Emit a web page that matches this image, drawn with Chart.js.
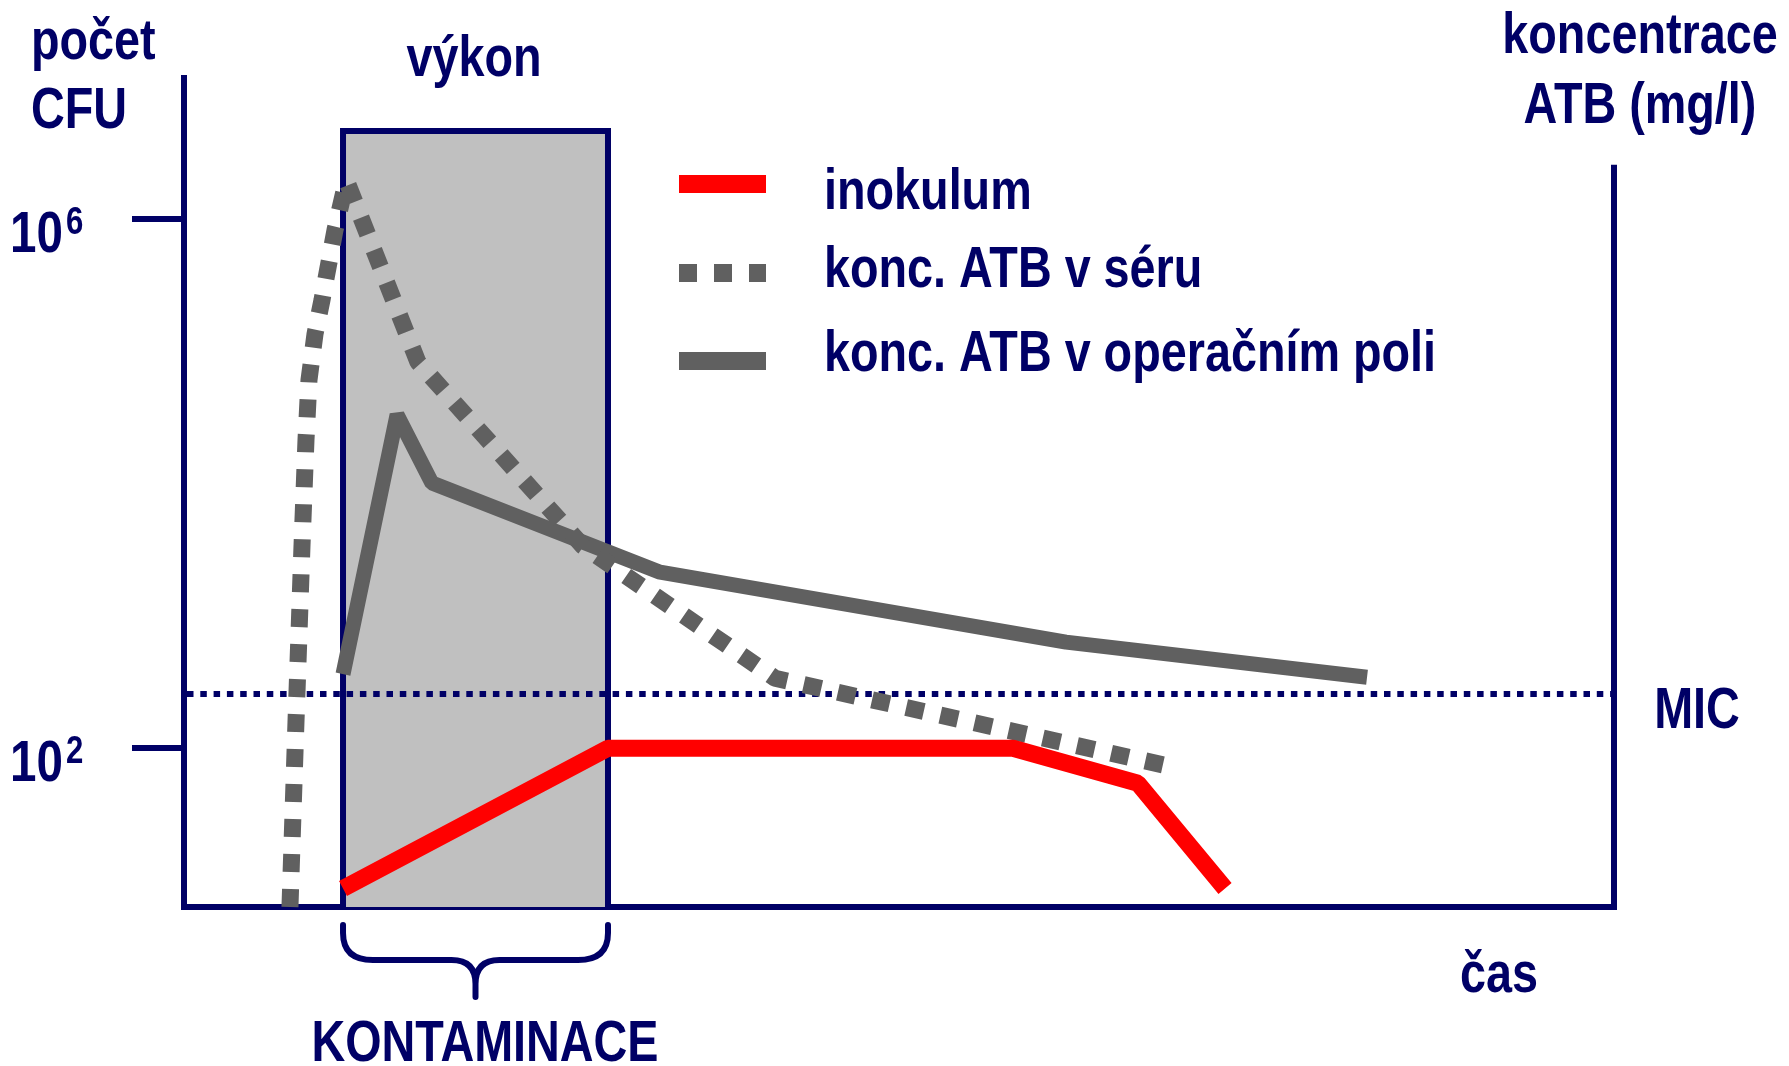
<!DOCTYPE html>
<html><head><meta charset="utf-8">
<script src="https://cdn.jsdelivr.net/npm/chart.js@4.4.1/dist/chart.umd.min.js"></script>
<style>html,body{margin:0;padding:0;background:#fff;overflow:hidden}#wrap{width:1789px;height:1066px;position:relative}</style>
</head><body><div id="wrap"><canvas id="c" width="1789" height="1066"></canvas></div>
<script>
// ---- data (x: time units 0..100 across the axis, y: log10 units) ----
const seriesNames = ['inokulum', 'konc. ATB v séru', 'konc. ATB v operačním poli'];
const inokulumX = [11.12, 29.65, 57.97, 66.71, 72.80];
const inokulumY = [0.94, 2.0, 2.0, 1.735, 0.94];
const seraX = [7.41, 7.83, 8.25, 8.53, 8.74, 9.16, 9.65, 10.56, 11.36, 16.36, 27.90, 41.33, 68.60];
const seraY = [0.80, 2.197, 3.527, 4.329, 4.783, 5.130, 5.388, 5.917, 6.29, 4.919, 3.527, 2.529, 1.871];
const poleX = [11.12, 14.90, 17.34, 33.29, 61.68, 82.73];
const poleY = [2.560, 4.52, 4.004, 3.331, 2.802, 2.537];
const yTickValues = [2, 6];
const yTickLabels = [['10', '2'], ['10', '6']];
const micLevel = 2.41;
const surgeryStart = 11.12, surgeryEnd = 29.65, surgeryTop = 6.665;
const rightAxisTop = 6.41;
const yMin = 0.8, yMax = 7.066, xMin = 0, xMax = 100;

const NAVY = '#000066', RED = '#ff0000', GREY = '#606060', BOX = '#c0c0c0';

const ctx0 = document.getElementById('c').getContext('2d');
function fontAvail(name) {
  ctx0.font = 'bold 50px monospace'; const a = ctx0.measureText('abcdefghijklmnop').width;
  ctx0.font = `bold 50px "${name}", monospace`; const b = ctx0.measureText('abcdefghijklmnop').width;
  return a !== b;
}
let FAM = '"Liberation Sans Narrow"', SX = 1;
if (!fontAvail('Liberation Sans Narrow')) { FAM = '"Liberation Sans", Arial, sans-serif'; SX = 0.82; }

function txt(ctx, s, x, y, align, size) {
  ctx.save();
  ctx.font = `bold ${size}px ${FAM}`;
  ctx.fillStyle = NAVY; ctx.textBaseline = 'alphabetic'; ctx.textAlign = 'left';
  const w = ctx.measureText(s).width * SX;
  const x0 = align === 'center' ? x - w / 2 : align === 'right' ? x - w : x;
  ctx.translate(x0, y); ctx.scale(SX, 1); ctx.fillText(s, 0, 0);
  ctx.restore();
  return w;
}

const pts = (xs, ys) => xs.map((x, i) => ({ x, y: ys[i] }));

const decor = {
  id: 'decor',
  beforeDatasetsDraw(chart) {
    const { ctx, scales: { x, y } } = chart;
    const l = x.getPixelForValue(surgeryStart), r = x.getPixelForValue(surgeryEnd);
    const t = y.getPixelForValue(surgeryTop), b = y.getPixelForValue(yMin);
    ctx.save();
    ctx.fillStyle = BOX; ctx.fillRect(l, t, r - l, b - t);
    ctx.strokeStyle = NAVY; ctx.lineWidth = 6;
    ctx.beginPath(); ctx.moveTo(l, b); ctx.lineTo(l, t); ctx.lineTo(r, t); ctx.lineTo(r, b); ctx.stroke();
    const my = y.getPixelForValue(micLevel);
    ctx.lineWidth = 6; ctx.setLineDash([6.5, 6.8]);
    ctx.beginPath(); ctx.moveTo(x.getPixelForValue(xMin) + 3, my); ctx.lineTo(x.getPixelForValue(xMax), my); ctx.stroke();
    ctx.setLineDash([]);
    ctx.lineWidth = 6;
    ctx.beginPath(); ctx.moveTo(x.getPixelForValue(xMax), y.getPixelForValue(rightAxisTop)); ctx.lineTo(x.getPixelForValue(xMax), y.getPixelForValue(yMin) + 3); ctx.stroke();
    ctx.restore();
  },
  afterDraw(chart) {
    const { ctx, scales: { x, y } } = chart;
    const S = 57;
    txt(ctx, 'počet', 31, 59, 'left', S);
    txt(ctx, 'CFU', 31, 128, 'left', S);
    txt(ctx, 'výkon', 474, 76, 'center', S);
    txt(ctx, 'koncentrace', 1640, 53, 'center', S);
    txt(ctx, 'ATB (mg/l)', 1640, 123, 'center', S);
    txt(ctx, 'MIC', 1697, 728, 'center', S);
    txt(ctx, 'čas', 1499, 992, 'center', S);
    txt(ctx, 'KONTAMINACE', 485, 1061, 'center', S);
    yTickValues.forEach((v, i) => {
      const py = y.getPixelForValue(v);
      txt(ctx, yTickLabels[i][0], 63, py + 33, 'right', 58);
      txt(ctx, yTickLabels[i][1], 66, py + 15, 'left', 38);
    });
    const lx0 = 679, lx1 = 766, tx = 824;
    const rows = [{ y: 184, ty: 209, c: RED, d: [] }, { y: 273, ty: 287, c: GREY, d: [18, 17] }, { y: 361, ty: 371, c: GREY, d: [] }];
    rows.forEach((r, i) => {
      ctx.save(); ctx.strokeStyle = r.c; ctx.lineWidth = 18; ctx.lineCap = 'butt'; ctx.setLineDash(r.d);
      ctx.beginPath(); ctx.moveTo(lx0, r.y); ctx.lineTo(lx1, r.y); ctx.stroke(); ctx.restore();
      txt(ctx, seriesNames[i], tx, r.ty, 'left', S);
    });
    const l = x.getPixelForValue(surgeryStart), rr = x.getPixelForValue(surgeryEnd), m = (l + rr) / 2;
    const y0 = 925, yh = 960, yt = 997;
    ctx.save(); ctx.strokeStyle = NAVY; ctx.lineWidth = 6; ctx.lineCap = 'round'; ctx.lineJoin = 'round';
    ctx.beginPath();
    ctx.moveTo(l, y0); ctx.lineTo(l, y0 + 8);
    ctx.quadraticCurveTo(l, yh, l + 30, yh);
    ctx.lineTo(m - 24, yh);
    ctx.quadraticCurveTo(m, yh, m, yh + 24); ctx.lineTo(m, yt);
    ctx.moveTo(m, yh + 24); ctx.quadraticCurveTo(m, yh, m + 24, yh);
    ctx.lineTo(rr - 30, yh);
    ctx.quadraticCurveTo(rr, yh, rr, y0 + 8); ctx.lineTo(rr, y0);
    ctx.stroke(); ctx.restore();
  }
};

new Chart(ctx0, {
  type: 'line',
  data: {
    datasets: [
      { label: seriesNames[0], data: pts(inokulumX, inokulumY), borderColor: RED, borderWidth: 17, borderCapStyle: 'butt', borderJoinStyle: 'bevel', clip: false },
      { label: seriesNames[1], data: pts(seraX, seraY), borderColor: GREY, borderWidth: 17, borderDash: [18, 17], borderCapStyle: 'butt', borderJoinStyle: 'bevel', clip: false },
      { label: seriesNames[2], data: pts(poleX, poleY), borderColor: GREY, borderWidth: 15, borderCapStyle: 'butt', borderJoinStyle: 'bevel', clip: false }
    ]
  },
  options: {
    responsive: false, animation: false, devicePixelRatio: 1,
    layout: { padding: { top: 78, right: 175, left: 0, bottom: 0 } },
    elements: { point: { radius: 0, hoverRadius: 0 }, line: { tension: 0, fill: false } },
    plugins: { legend: { display: false }, tooltip: { enabled: false } },
    events: [],
    scales: {
      x: {
        type: 'linear', min: xMin, max: xMax,
        ticks: { display: false }, grid: { display: false },
        border: { display: true, color: NAVY, width: 6 },
        afterFit(s) { s.height = 159; }
      },
      y: {
        type: 'linear', min: yMin, max: yMax,
        afterBuildTicks(s) { s.ticks = yTickValues.map(v => ({ value: v })); },
        ticks: { display: false },
        grid: { display: true, drawOnChartArea: false, drawTicks: true, tickLength: 52, lineWidth: 6, color: NAVY },
        border: { display: true, color: NAVY, width: 6 },
        afterFit(s) { s.width = 184; }
      }
    }
  },
  plugins: [decor]
});
</script></body></html>
